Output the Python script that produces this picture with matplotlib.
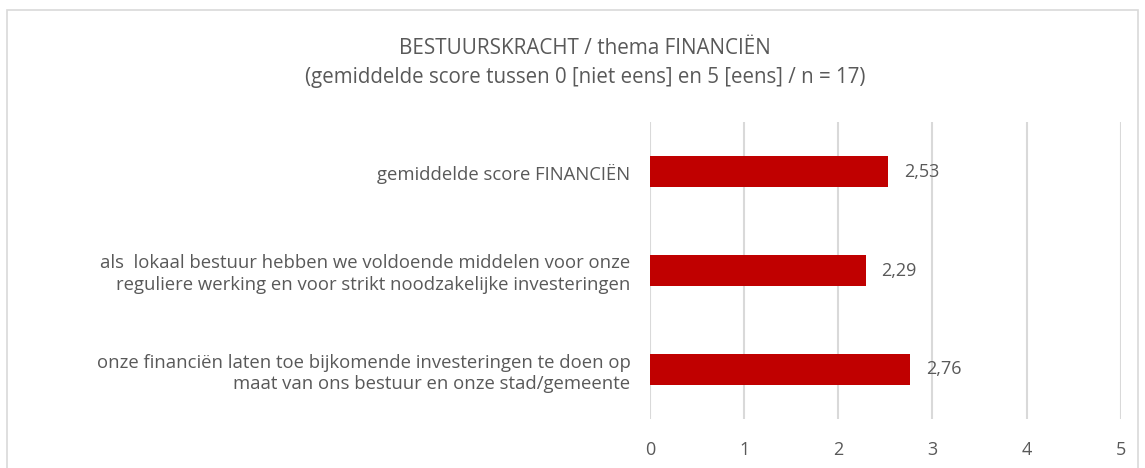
import matplotlib.pyplot as plt
from matplotlib.patches import Rectangle

categories = [
    "gemiddelde score FINANCIËN",
    "als  lokaal bestuur hebben we voldoende middelen voor onze\nreguliere werking en voor strikt noodzakelijke investeringen",
    "onze financiën laten toe bijkomende investeringen te doen op\nmaat van ons bestuur en onze stad/gemeente",
]
scores = [2.53, 2.29, 2.76]
score_labels = ["2,53", "2,29", "2,76"]
x_ticks = [0, 1, 2, 3, 4, 5]

plt.rcParams['font.family'] = ['Open Sans', 'DejaVu Sans']
txt = '#595959'

fig = plt.figure(figsize=(11.45, 4.68), dpi=100)
ax = fig.add_axes([650 / 1145, 49 / 468, 470.7 / 1145, 297 / 468])

y = list(range(len(categories)))
ax.barh(y, scores, height=0.31, color='#c00000', zorder=3)
for yi, v, lab in zip(y, scores, score_labels):
    ax.text(v + 0.17, yi, lab, va='center', ha='left', fontsize=13, color=txt)

ax.set_yticks(y)
ax.set_yticklabels(categories, fontsize=13.3, color=txt, ha='right', linespacing=1.25)
ax.set_ylim(2.5, -0.5)
ax.set_xlim(0, 5)
ax.set_xticks(x_ticks)
ax.set_xticklabels([str(t) for t in x_ticks], fontsize=13, color=txt)
ax.tick_params(axis='both', length=0)
ax.tick_params(axis='y', pad=14)
ax.tick_params(axis='x', pad=16)
ax.grid(axis='x', color='#d9d9d9', linewidth=1.5, zorder=0)
for s in ax.spines.values():
    s.set_visible(False)

fig.text(585 / 1145, 1 - 48 / 468, "BESTUURSKRACHT / thema FINANCIËN",
         ha='center', va='center', fontsize=14.9, color=txt)
fig.text(585 / 1145, 1 - 78 / 468,
         "(gemiddelde score tussen 0 [niet eens] en 5 [eens] / n = 17)",
         ha='center', va='center', fontsize=14.8, color=txt)

fig.patches.append(Rectangle((7 / 1145, -0.01), 1131 / 1145, 1 - 10 / 468 + 0.01,
                             transform=fig.transFigure, fill=False,
                             edgecolor='#d9d9d9', linewidth=1.2))

fig.savefig('out.png', dpi=100)
